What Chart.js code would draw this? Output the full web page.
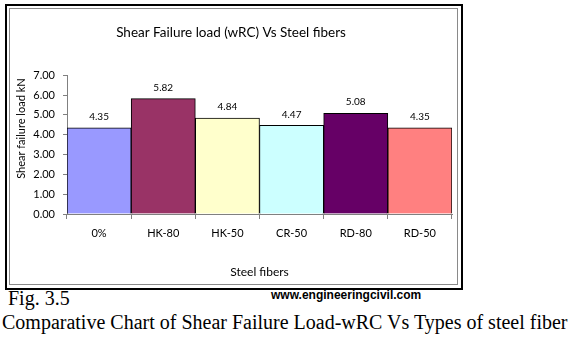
<!DOCTYPE html>
<html>
<head>
<meta charset="utf-8">
<script src="https://cdn.jsdelivr.net/npm/chart.js@4.4.1/dist/chart.umd.min.js"></script>
<style>
  body { margin: 0; background: #fff; width: 571px; height: 348px; position: relative; overflow: hidden; }
  #moldura { position: absolute; left: 5px; top: 4px; width: 454px; height: 282px; border: 2px solid #000; }
  #interna { position: absolute; left: 9px; top: 8px; width: 447px; height: 275px; border: 1px solid #8a8a8a; }
  #grafico { position: absolute; left: 10px; top: 9px; }
  .legenda { position: absolute; white-space: nowrap; color: #000; }
  #fig { left: 8px; top: 287px; font: 20px "Liberation Serif", serif; }
  #site { left: 271px; top: 288px; font: bold 12px "Liberation Sans", Arial, sans-serif; }
  #descricao { left: 2px; top: 311px; font: 20px "Liberation Serif", serif; }
</style>
</head>
<body>
<div id="moldura"></div>
<div id="interna"></div>
<canvas id="grafico" width="447" height="275"></canvas>
<div class="legenda" id="fig">Fig. 3.5</div>
<div class="legenda" id="site">www.engineeringcivil.com</div>
<div class="legenda" id="descricao">Comparative Chart of Shear Failure Load-wRC Vs Types of steel fiber</div>

<script>
// tipos de fibra e carga de ruptura ao cisalhamento (kN)
const fibras = ['0%', 'HK-80', 'HK-50', 'CR-50', 'RD-80', 'RD-50'];
const cargas = [4.35, 5.82, 4.84, 4.47, 5.08, 4.35];
const cores = ['#9999FF', '#993366', '#FFFFCC', '#CCFFFF', '#660066', '#FF8080'];
const escalaY = [0, 7];

const fonte = 'Lato';

// valor escrito em cima de cada barra
const rotulosValores = {
    id: 'rotulosValores',
    afterDatasetsDraw(chart) {
        const ctx = chart.ctx;
        const barras = chart.getDatasetMeta(0).data;
        ctx.save();
        ctx.font = '10px ' + fonte;
        ctx.fillStyle = '#000';
        ctx.textAlign = 'center';
        ctx.textBaseline = 'middle';
        barras.forEach((barra, i) => {
            ctx.fillText(cargas[i].toFixed(2), barra.x, barra.y - 11);
        });
        ctx.restore();
    }
};

// titulo do eixo Y, um pouco acima do centro
const tituloEixoY = {
    id: 'tituloEixoY',
    afterDraw(chart) {
        const ctx = chart.ctx;
        const area = chart.chartArea;
        ctx.save();
        ctx.translate(11, (area.top + area.bottom) / 2 - 16);
        ctx.rotate(-Math.PI / 2);
        ctx.font = '11px ' + fonte;
        ctx.fillStyle = '#000';
        ctx.textAlign = 'center';
        ctx.textBaseline = 'middle';
        ctx.fillText('Shear failure load kN', 0, 0);
        ctx.restore();
    }
};

const grafico = new Chart(document.getElementById('grafico'), {
    type: 'bar',
    data: {
        labels: fibras,
        datasets: [{
            data: cargas,
            backgroundColor: cores,
            borderColor: '#000',
            borderWidth: 1,
            barPercentage: 1,
            categoryPercentage: 1
        }]
    },
    options: {
        responsive: false,
        animation: false,
        layout: { padding: { left: 0, right: 5, top: 0, bottom: 0 } },
        plugins: {
            legend: { display: false },
            tooltip: { enabled: false },
            title: {
                display: true,
                text: 'Shear Failure load (wRC) Vs Steel fibers',
                color: '#000',
                font: { family: fonte, size: 13.5, weight: 'normal' },
                padding: { top: 16, bottom: 34 }
            }
        },
        scales: {
            x: {
                grid: { drawOnChartArea: false, tickLength: 5, color: '#808080' },
                border: { color: '#808080' },
                ticks: { color: '#000', font: { family: fonte, size: 11 }, padding: 8 },
                title: {
                    display: true,
                    text: 'Steel fibers',
                    color: '#000',
                    font: { family: fonte, size: 12 },
                    padding: { top: 0, bottom: 5 }
                },
                afterFit(scale) { scale.height = 70; }
            },
            y: {
                min: escalaY[0],
                max: escalaY[1],
                grid: { drawOnChartArea: false, tickLength: 4, color: '#808080' },
                border: { color: '#808080' },
                ticks: {
                    stepSize: 1,
                    color: '#000',
                    font: { family: fonte, size: 11 },
                    padding: 8,
                    callback: (valor) => valor.toFixed(2)
                },
                afterFit(scale) { scale.width = 57; }
            }
        }
    },
    plugins: [rotulosValores, tituloEixoY]
});
</script>
</body>
</html>
